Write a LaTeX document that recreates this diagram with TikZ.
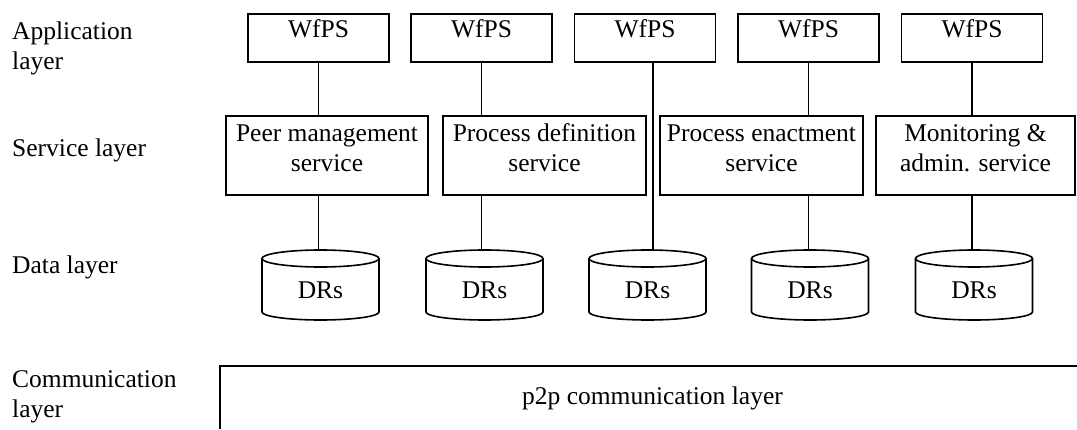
\documentclass[tikz,border=0pt]{standalone}
\usepackage{fontspec}
\setmainfont{Liberation Serif}
\usetikzlibrary{calc}
\tikzset{
  base font/.style={font=\fontsize{25.5pt}{30pt}\selectfont},
  wfbox/.style={draw, line width=1.6pt, inner xsep=0pt, inner ysep=0pt, outer sep=0pt,
     minimum width=141pt, text height=24pt, text depth=24pt},
  svbox/.style={draw, line width=1.6pt, inner xsep=0pt, inner ysep=0pt, outer sep=0pt,
     align=center, text height=56pt, text depth=23pt},
  drnode/.style={inner sep=0pt, outer sep=0pt, minimum width=117pt,
     text height=48pt, text depth=22pt},
  conn/.style={line width=1.5pt},
  cylline/.style={line width=1.6pt},
  lbl/.style={anchor=base west, align=left, inner sep=0pt},
}
\newcommand{\drawcyl}[1]{%
  \draw[cylline] ([yshift=-8.5pt]#1.north west) -- ([yshift=8pt]#1.south west)
     arc[start angle=180,end angle=360,x radius=58.5pt,y radius=8pt]
     -- ([yshift=-8.5pt]#1.north east)
     arc[start angle=0,end angle=180,x radius=58.5pt,y radius=8.5pt] -- cycle;
  \draw[cylline] ([yshift=-8.5pt]#1.north west)
     arc[start angle=180,end angle=360,x radius=58.5pt,y radius=8.5pt];
}
\begin{document}
\begin{tikzpicture}[x=1pt,y=1pt,base font]
\useasboundingbox (0,0) rectangle (1077,429);

% layer labels (base = last line)
\node[lbl] (la) at (12,359) {Application\\layer};
\node[lbl] (ls) at (12,272) {Service layer};
\node[lbl] (ld) at (12,155) {Data layer};
\node[lbl] (lc) at (12,12) {Communication\\layer};

% application layer
\node[wfbox] (w1) at (318.5,391) {WfPS};
\node[wfbox] (w2) at (481.5,391) {WfPS};
\node[wfbox] (w3) at (645,391) {WfPS};
\node[wfbox] (w4) at (808.5,391) {WfPS};
\node[wfbox] (w5) at (972,391) {WfPS};

% service layer
\node[svbox, minimum width=202pt, anchor=base] (s1) at (327,257) {Peer management\\service};
\node[svbox, minimum width=203pt, anchor=base] (s2) at (544.5,257) {Process definition\\service};
\node[svbox, minimum width=203pt, anchor=base] (s3) at (761.5,257) {Process enactment\\service};
\node[svbox, minimum width=199pt, anchor=base] (s4) at (975.5,257) {Monitoring \&\\admin. service};

% data layer
\node[drnode] (d1) at (320.5,144) {DRs};
\node[drnode] (d2) at (484.5,144) {DRs};
\node[drnode] (d3) at (647.5,144) {DRs};
\node[drnode] (d4) at (810,144) {DRs};
\node[drnode] (d5) at (974,144) {DRs};
\drawcyl{d1}\drawcyl{d2}\drawcyl{d3}\drawcyl{d4}\drawcyl{d5}

% connectors
\draw[conn] (w1.south) -- (w1.south |- s1.north);
\draw[conn] (s1.south -| w1.south) -- (d1.north -| w1.south);
\draw[conn] (w2.south) -- (w2.south |- s2.north);
\draw[conn] (s2.south -| w2.south) -- (d2.north -| w2.south);
\coordinate (w3b) at ([xshift=8pt]w3.south);
\draw[conn] (w3b) -- (w3b |- d3.north);
\draw[conn] (w4.south) -- (w4.south |- s3.north);
\draw[conn] (s3.south -| w4.south) -- (d4.north -| w4.south);
\draw[conn] (w5.south) -- (w5.south |- s4.north);
\draw[conn] (s4.south -| w5.south) -- (d5.north -| w5.south);

% communication layer
\node[anchor=base, inner sep=0pt] (p2p) at (652.5,25) {p2p communication layer};
\draw[line width=1.6pt] (220,0) -- (220,63) -- (1077,63);
\end{tikzpicture}
\end{document}
